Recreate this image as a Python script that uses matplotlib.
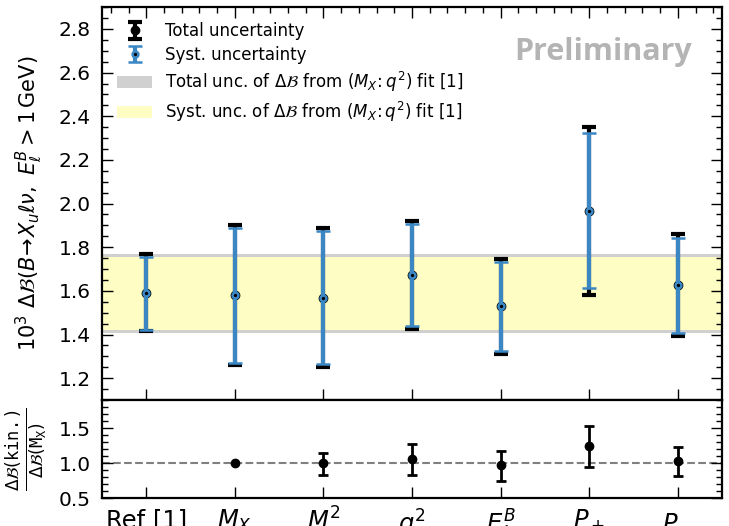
import matplotlib
matplotlib.use("Agg")
from matplotlib import pyplot as plt
from matplotlib.ticker import MultipleLocator
import numpy as np

# categories (x axis)
labels = ["Ref [1]", r"$M_X$", r"$M^2$", r"$q^2$", r"$E_\ell^B$", r"$P_+$", r"$P_-$"]

# 10^3 Delta B central values
central = [1.592, 1.580, 1.569, 1.673, 1.529, 1.967, 1.626]
# total uncertainty edges (upper, lower)
tot_hi = [1.768, 1.901, 1.886, 1.921, 1.748, 2.349, 1.860]
tot_lo = [1.417, 1.260, 1.251, 1.424, 1.310, 1.583, 1.394]
# systematic uncertainty edges (upper, lower)
syst_hi = [1.757, 1.888, 1.875, 1.907, 1.734, 2.323, 1.841]
syst_lo = [1.421, 1.271, 1.263, 1.439, 1.324, 1.612, 1.409]

# reference (M_X:q^2) fit bands
ref_tot = (1.409, 1.768)
ref_syst = (1.420, 1.757)

# ratio to the M_X result
ratio = [1.000, 1.057, 0.967, 1.237, 1.024]
ratio_hi = [1.147, 1.270, 1.176, 1.523, 1.223]
ratio_lo = [0.824, 0.830, 0.747, 0.950, 0.820]
ratio_x = [2, 3, 4, 5, 6]

blue = "#3a87c4"

x = np.arange(len(labels))
central = np.array(central)
c_tot_err = [central - np.array(tot_lo), np.array(tot_hi) - central]
c_syst_err = [central - np.array(syst_lo), np.array(syst_hi) - central]

fig = plt.figure(figsize=(7.29, 5.26), dpi=100)
ax = fig.add_axes([0.14, 0.2395, 0.8505, 0.747])
axr = fig.add_axes([0.14, 0.0532, 0.8505, 0.1863], sharex=ax)

ax.axhspan(*ref_tot, color="#d0d0d0", lw=0, zorder=0,
           label=r"Total unc. of $\Delta\mathcal{B}$ from $(M_X\!:q^2)$ fit [1]")
ax.axhspan(*ref_syst, color="#fdfdc4", lw=0, zorder=0.5,
           label=r"Syst. unc. of $\Delta\mathcal{B}$ from $(M_X\!:q^2)$ fit [1]")

ax.errorbar(x, central, yerr=c_tot_err, fmt="o", color="k", ms=6, elinewidth=3,
            capsize=5, capthick=3, zorder=2, label="Total uncertainty")
ax.errorbar(x, central, yerr=c_syst_err, fmt="o", color=blue, mfc="k", mec=blue,
            ms=4.2, mew=1.8, elinewidth=3, capsize=5, capthick=2.2, zorder=3,
            label="Syst. uncertainty")

ax.set_ylim(1.1, 2.9)
ax.set_xlim(-0.5, 6.5)
ax.yaxis.set_major_locator(MultipleLocator(0.2))
ax.yaxis.set_minor_locator(MultipleLocator(0.05))
ax.xaxis.set_minor_locator(MultipleLocator(0.2))
ax.tick_params(which="both", direction="in", top=True, right=True, labelsize=14.5, pad=8)
ax.tick_params(which="major", length=8, width=1)
ax.tick_params(which="minor", length=4, width=1, bottom=False)
ax.tick_params(axis="x", labelbottom=False)
ax.set_ylabel(r"$10^3\ \Delta\mathcal{B}(B\!\to\! X_u\ell\nu,\ E_\ell^B > 1\,\mathrm{GeV})$",
              fontsize=15)
ax.yaxis.set_label_coords(-0.092, 0.5)

h, l = ax.get_legend_handles_labels()
order = [2, 3, 0, 1]
ax.legend([h[i] for i in order], [l[i] for i in order], loc="upper left",
          frameon=False, fontsize=12, handlelength=2.1, borderaxespad=0.5,
          labelspacing=0.35)

ax.text(0.952, 0.885, "Preliminary", transform=ax.transAxes, ha="right",
        va="center", fontsize=22, fontweight="bold", color="#b4b4b4",
        family="Open Sans")

# ratio panel
axr.axhline(1.0, color="#808080", ls="--", lw=1.5, zorder=0)
axr.plot([1], [1.0], "o", color="k", ms=6)
ratio = np.array(ratio)
r_err = [ratio - np.array(ratio_lo), np.array(ratio_hi) - ratio]
axr.errorbar(ratio_x, ratio, yerr=r_err, fmt="o", color="k", ms=6, elinewidth=2,
             capsize=3.5, capthick=2)
axr.set_ylim(0.5, 1.9)
axr.yaxis.set_major_locator(MultipleLocator(0.5))
axr.yaxis.set_minor_locator(MultipleLocator(0.1))
axr.set_xticks(x)
axr.set_xticklabels(labels)
axr.tick_params(which="both", direction="in", right=True, labelsize=14.5, pad=8)
axr.tick_params(which="major", length=8, width=1)
axr.tick_params(which="minor", length=4, width=1, bottom=False, top=False)
axr.tick_params(axis="x", labelsize=17.5, pad=7)
axr.set_ylabel(r"$\frac{\Delta\mathcal{B}(\mathtt{kin.})}{\Delta\mathcal{B}(\mathtt{M_X})}$",
               fontsize=17.5)
axr.yaxis.set_label_coords(-0.084, 0.5)

for a in (ax, axr):
    for s in a.spines.values():
        s.set_linewidth(1.6)

fig.savefig("out.png", dpi=100)
